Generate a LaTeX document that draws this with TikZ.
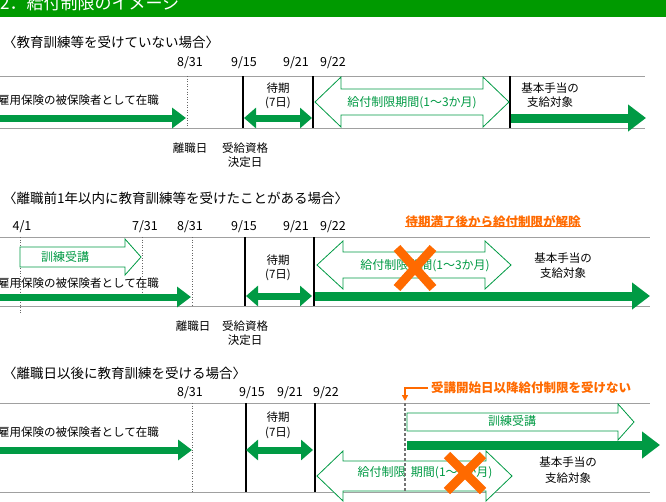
\documentclass[tikz,border=0pt]{standalone}
\usepackage{fontspec}
\setmainfont{Noto Sans CJK JP}
\usetikzlibrary{arrows.meta}
\definecolor{gbar}{HTML}{009A00}
\definecolor{gr}{HTML}{009A44}
\definecolor{og}{HTML}{FF6A00}
\definecolor{ln}{HTML}{A0A0A0}
\newcommand\hollowD[5]{% x1 x2 yc halfhead halfshaft
 \draw[gr,fill=white,line width=0.8] (#1,#3) -- (#1+26,#3-#4) -- (#1+26,#3-#5) -- (#2-26,#3-#5) -- (#2-26,#3-#4) -- (#2,#3) -- (#2-26,#3+#4) -- (#2-26,#3+#5) -- (#1+26,#3+#5) -- (#1+26,#3+#4) -- cycle;}
\newcommand\hollowS[5]{%
 \draw[gr,fill=white,line width=0.8] (#1,#3-#5) -- (#2-16,#3-#5) -- (#2-16,#3-#4) -- (#2,#3) -- (#2-16,#3+#4) -- (#2-16,#3+#5) -- (#1,#3+#5) -- cycle;}
\begin{document}
\begin{tikzpicture}[x=1pt,y=-1pt,
 every node/.style={inner sep=0pt,font=\fontsize{11.5}{12}\selectfont},
 hd/.style={anchor=west,font=\fontsize{13.5}{14}\selectfont},
 dt/.style={font=\fontsize{12.5}{13}\selectfont},
 gl/.style={ln,line width=1},
 dl/.style={black!60,dotted,line width=0.6},
 sl/.style={black,line width=1.6},
 thk/.style={gr,line width=7,-{Triangle[length=14,width=20]}},
 thkd/.style={gr,line width=7,{Triangle[length=12,width=20]}-{Triangle[length=12,width=20]}},
 big/.style={gr,line width=9,-{Triangle[length=18,width=26]}},
 gt/.style={gr,font=\fontsize{12}{12}\selectfont},
 xm/.style={og,line width=9}]
\useasboundingbox (0,0) rectangle (666,501);
\fill[gbar] (0,-5) rectangle (666,17);
\node[anchor=west,white,font=\fontsize{17}{18}\selectfont] (title) at (0,3) {2．給付制限のイメージ};
% ---------- section 1
\node[hd] (h1) at (3,42) {〈教育訓練等を受けていない場合〉};
\foreach \n/\x/\t in {a/190/{8/31},b/244/{9/15},c/296/{9/21},d/333/{9/22}}
 \node[dt] (d1\n) at (\x,63) {\t};
\draw[gl] (0,76) -- (645,76); \draw[gl] (0,128) -- (645,128);
\draw[dl] (187,76) -- (187,128);
\draw[sl] (243,76) -- (243,128); \draw[sl] (313,76) -- (313,128); \draw[sl] (510,76) -- (510,128);
\node[anchor=west] (e1) at (-2,100) {雇用保険の被保険者として在職};
\coordinate (e1s) at (0,118); \coordinate (e1e) at (186,118);
\draw[thk] (e1s) -- (e1e);
\node (w1) at (278,88) {待期}; \node (w1b) at (278,103) {(7日)};
\coordinate (w1s) at (244,118); \coordinate (w1e) at (312,118);
\draw[thkd] (w1s) -- (w1e);
\hollowD{315}{509}{102}{25}{13}
\node[gt] (g1) at (412,103) {給付制限期間(1～3か月)};
\node (k1) at (550,88) {基本手当の}; \node (k1b) at (550,102) {支給対象};
\coordinate (k1s) at (511,118); \coordinate (k1e) at (646,118);
\draw[big] (k1s) -- (k1e);
\node (r1) at (190,148) {離職日};
\node (j1) at (245,148) {受給資格}; \node (j1b) at (245,162) {決定日};
% ---------- section 2
\node[hd] (h2) at (3,198) {〈離職前1年以内に教育訓練等を受けたことがある場合〉};
\foreach \n/\x/\t in {a/22/{4/1},b/145/{7/31},c/190/{8/31},d/244/{9/15},e/296/{9/21},f/333/{9/22}}
 \node[dt] (d2\n) at (\x,227) {\t};
\node[og,font=\fontsize{12.5}{13}\selectfont\bfseries] (o2) at (493,222) {待期満了後から給付制限が解除};
\draw[og,line width=0.8] ([yshift=2]o2.south west) -- ([yshift=2]o2.south east);
\draw[gl] (0,237) -- (650,237); \draw[gl] (0,306) -- (650,306);
\draw[dl] (20,237) -- (20,313); \draw[dl] (142,237) -- (142,296); \draw[dl] (192,237) -- (192,306);
\draw[sl] (245,237) -- (245,306); \draw[sl] (314,237) -- (314,306);
\hollowS{20}{141}{257}{18}{10}
\node[gt] (t2) at (65,257) {訓練受講};
\node[anchor=west] (e2) at (-2,283) {雇用保険の被保険者として在職};
\coordinate (e2s) at (0,297); \coordinate (e2e) at (191,297);
\draw[thk] (e2s) -- (e2e);
\node (w2) at (278,260) {待期}; \node (w2b) at (278,275) {(7日)};
\coordinate (w2s) at (246,296); \coordinate (w2e) at (312,296);
\draw[thkd] (w2s) -- (w2e);
\hollowD{317}{511}{265}{24}{13}
\node[gt] (g2) at (425,266) {給付制限期間(1～3か月)};
\draw[xm] (397,248) -- (433,288); \draw[xm] (433,248) -- (397,288);
\node (k2) at (563,258) {基本手当の}; \node (k2b) at (563,273) {支給対象};
\coordinate (k2s) at (315,296); \coordinate (k2e) at (650,296);
\draw[big] (k2s) -- (k2e);
\node (r2) at (193,326) {離職日};
\node (j2) at (245,326) {受給資格}; \node (j2b) at (245,340) {決定日};
% ---------- section 3
\node[hd] (h3) at (3,373) {〈離職日以後に教育訓練を受ける場合〉};
\foreach \n/\x/\t in {a/190/{8/31},b/252/{9/15},c/290/{9/21},d/326/{9/22}}
 \node[dt] (d3\n) at (\x,393) {\t};
\node[og,anchor=west,font=\fontsize{12.5}{13}\selectfont\bfseries] (o3) at (431,388) {受講開始日以降給付制限を受けない};
\coordinate (o3c) at (405,388);
\draw[og,line width=1.4,-{Triangle[length=6,width=6]}] ([xshift=-3]o3.west) -- (o3c) -- (405,401);
\draw[gl] (0,403) -- (650,403); \draw[gl] (0,492) -- (650,492);
\draw[dl] (192,403) -- (192,492);
\draw[sl] (246,403) -- (246,492); \draw[sl] (315,403) -- (315,492);
\hollowS{407}{634}{422}{18}{9}
\node[gt] (t3) at (512,421) {訓練受講};
\node[anchor=west] (e3) at (-2,432) {雇用保険の被保険者として在職};
\coordinate (e3s) at (0,450); \coordinate (e3e) at (192,450);
\draw[thk] (e3s) -- (e3e);
\node (w3) at (278,417) {待期}; \node (w3b) at (278,433) {(7日)};
\coordinate (w3s) at (246,450); \coordinate (w3e) at (313,450);
\draw[thkd] (w3s) -- (w3e);
\hollowD{317}{512}{476}{25}{15}
\node[gt] (g3) at (425,473) {給付制限\ \ 期間(1～3か月)};
\draw[xm] (447,455) -- (483,491); \draw[xm] (483,455) -- (447,491);
\draw[black!55,line width=2.2,dash pattern=on 3pt off 2pt] (405,403) -- (405,492);
\coordinate (k3s) at (407,445); \coordinate (k3e) at (660,445);
\draw[big] (k3s) -- (k3e);
\node (k3) at (568,462) {基本手当の}; \node (k3b) at (568,478) {支給対象};
\end{tikzpicture}
\end{document}
